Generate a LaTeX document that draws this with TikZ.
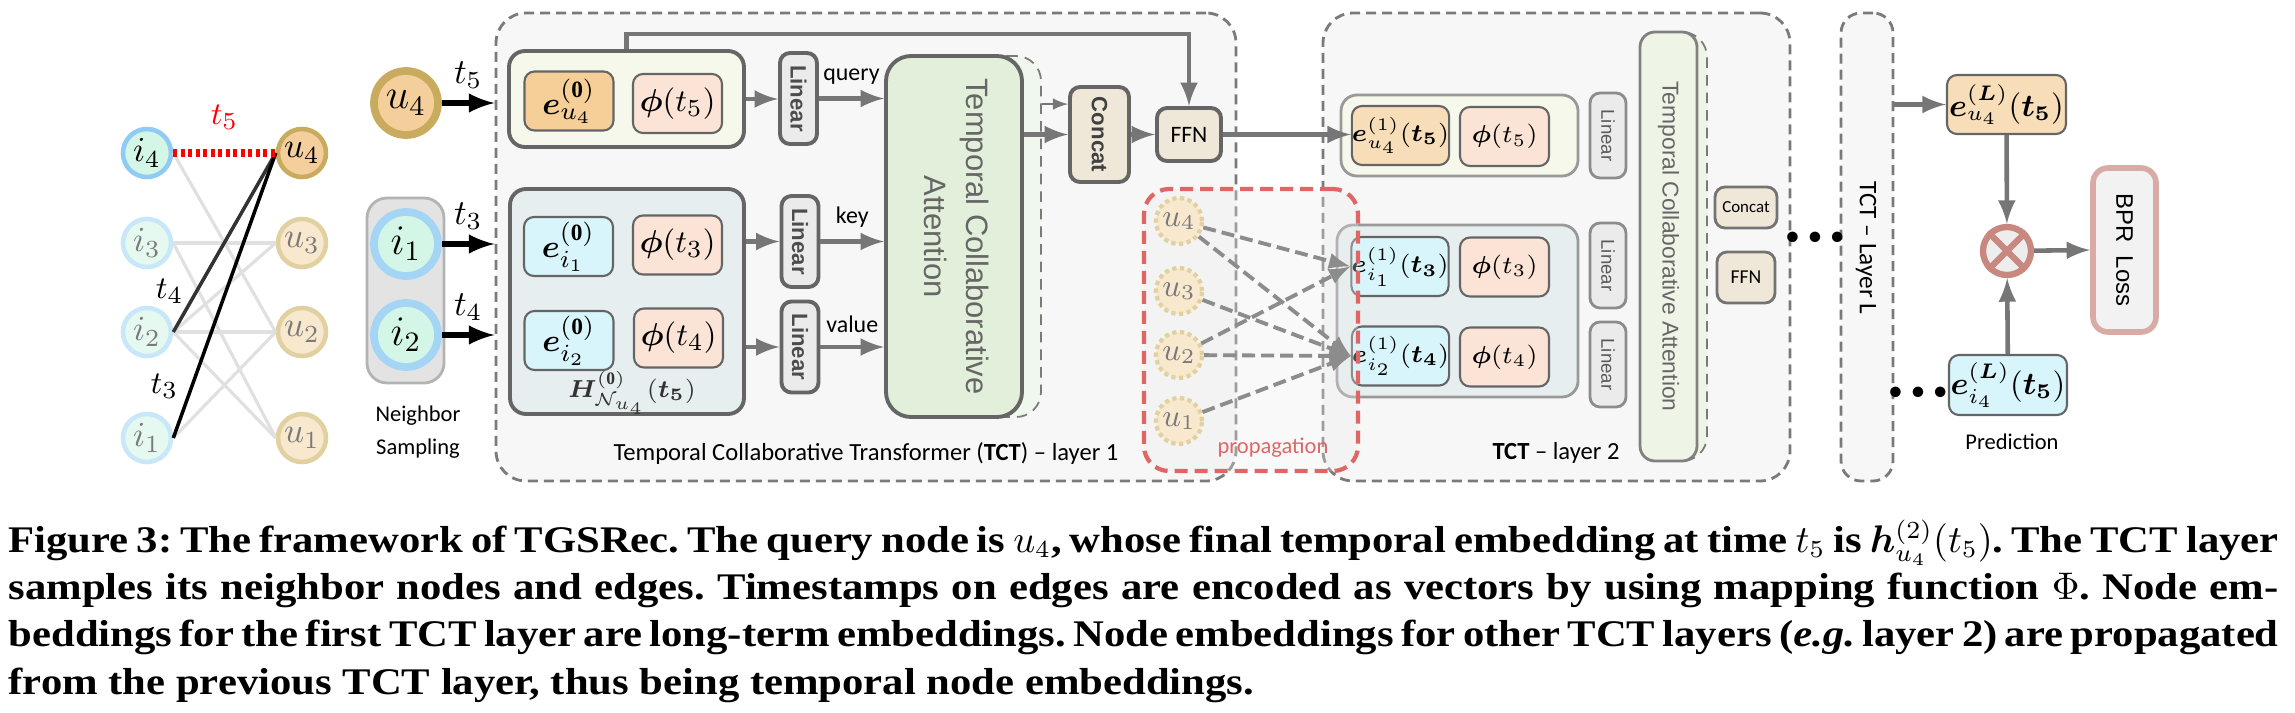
\documentclass[tikz,border=0pt]{standalone}
\usepackage{bm}
\usepackage{xcolor}
\usepackage{amsmath}
\usepackage{amssymb}
\usepackage{graphicx}
\usepackage{fontspec}
\setmainfont{Liberation Serif}
\newfontfamily\capfont{Liberation Serif}[FakeStretch=1.135]
\newfontfamily\calfont{Carlito}
\newfontfamily\arifont{Liberation Sans}
\usepackage{tikz}
\usetikzlibrary{arrows}
\usetikzlibrary{calc}

\definecolor{edgegray}{HTML}{767676}
\definecolor{boxgray}{HTML}{656565}
\definecolor{dashgray}{HTML}{7A7A7A}
\definecolor{layerfill}{HTML}{F7F7F7}
\definecolor{queryfill}{HTML}{F5F8EA}
\definecolor{nbrfill}{HTML}{E7EEF0}
\definecolor{userfill}{HTML}{F5CE98}
\definecolor{userfillb}{HTML}{F8DEB8}
\definecolor{itemfill}{HTML}{D9F5FC}
\definecolor{phifill}{HTML}{FBE4D6}
\definecolor{linfill}{HTML}{EBEBEB}
\definecolor{attfill}{HTML}{E2EFDA}
\definecolor{attfillb}{HTML}{EEF4E6}
\definecolor{catfill}{HTML}{EFE8D8}
\definecolor{propred}{HTML}{E06666}
\definecolor{nodeitem}{HTML}{D4F6E6}
\definecolor{nodeitemline}{HTML}{8FCBF2}
\definecolor{fadeitem}{HTML}{E6F9F0}
\definecolor{fadeitemline}{HTML}{C8E7F9}
\definecolor{nodeuser}{HTML}{F4CF9C}
\definecolor{nodeuserline}{HTML}{C9AB5E}
\definecolor{fadeuser}{HTML}{F8E8CE}
\definecolor{fadeuserline}{HTML}{E2D1A0}
\definecolor{fadetext}{HTML}{7A7A7A}
\definecolor{graphedge}{HTML}{E0E0E0}
\definecolor{nsfill}{HTML}{E3E3E3}
\definecolor{nsline}{HTML}{B3B3B3}
\definecolor{otimesline}{HTML}{C8887F}
\definecolor{bprline}{HTML}{D9ABA6}
\definecolor{bprfill}{HTML}{F2F2F2}

\begin{document}
\begin{tikzpicture}[x=0.1mm, y=-0.1mm,
	layerbox/.style={draw=dashgray, dash pattern=on 1mm off 0.6mm, line width=0.8pt, fill=layerfill, rounded corners=3mm},
	outerbox/.style={draw=boxgray, line width=1.1pt, rounded corners=1.6mm},
	embbox/.style={draw=boxgray, line width=0.6pt, rounded corners=1mm, minimum width=8.9mm, minimum height=5.9mm, inner sep=0},
	linbox/.style={draw=boxgray, line width=1.1pt, fill=linfill, rounded corners=1mm, inner sep=0},
	attbox/.style={draw=boxgray, line width=1.1pt, fill=attfill, rounded corners=2.5mm, inner sep=0, text=black!60},
	shadowbox/.style={draw=dashgray, densely dashed, line width=0.5pt, rounded corners=2.5mm},
	catbox/.style={draw=boxgray, line width=1.1pt, fill=catfill, rounded corners=1mm, inner sep=0},
	gnode/.style={circle, minimum size=4.8mm, inner sep=0, line width=1.3pt, font=\fontsize{10}{10}\selectfont},
	tag/.style={font=\calfont\fontsize{6.8}{7}\selectfont}]
\useasboundingbox (0,0) rectangle (2295,712);

\node (lay1) [layerbox, minimum width=74mm, minimum height=46.8mm] at (866,247) {};
\node (lay2) [layerbox, minimum width=46.7mm, minimum height=46.8mm] at (1556.5,247) {};
\node (layL) [layerbox, rounded corners=2mm, minimum width=5.2mm, minimum height=46.8mm] at (1867,247) {};
\node (layLt) [font=\calfont\fontsize{7.2}{8}\selectfont] at (1866,248) {\rotatebox{-90}{TCT – Layer L}};

\begin{scope}[every node/.style={gnode}]
\node (i4) [draw=nodeitemline, fill=nodeitem] at (147,153) {$i_4$};
\node (u4) [draw=nodeuserline, fill=nodeuser] at (302,153) {$u_4$};
\node (i3) [draw=fadeitemline, fill=fadeitem, text=fadetext] at (147,243) {$i_3$};
\node (u3) [draw=fadeuserline, fill=fadeuser, text=fadetext] at (302,243) {$u_3$};
\node (i2) [draw=fadeitemline, fill=fadeitem, text=fadetext] at (147,332) {$i_2$};
\node (u2) [draw=fadeuserline, fill=fadeuser, text=fadetext] at (302,332) {$u_2$};
\node (i1) [draw=fadeitemline, fill=fadeitem, text=fadetext] at (147,438) {$i_1$};
\node (u1) [draw=fadeuserline, fill=fadeuser, text=fadetext] at (302,438) {$u_1$};
\end{scope}

\begin{scope}[every edge/.style={draw=graphedge, line width=0.9pt}]
\path (i4.east) edge (u2.west)
(i3.east) edge (u3.west)
(i3.east) edge (u1.west)
(i2.east) edge (u3.west)
(i2.east) edge (u2.west)
(i2.east) edge (u1.west)
(i1.east) edge (u2.west);
\end{scope}

\draw [black!80, line width=1pt] (i2.east) -- (u4.west) node [pos=0.23, left=0pt, text=black, font=\fontsize{9.5}{10}\selectfont] {$t_4$};
\draw [black, line width=1pt] (i1.east) -- (u4.west) node [pos=0.18, left=0pt, font=\fontsize{9.5}{10}\selectfont] {$t_3$};
\draw [red, line width=2pt, dash pattern=on 0.4mm off 0.35mm] (i4.east) -- (u4.west) node [midway, above=0.8mm, text=red, font=\fontsize{9.5}{10}\selectfont] {$t_5$};

\node (ns) [draw=nsline, fill=nsfill, line width=0.8pt, rounded corners=2mm, minimum width=7.7mm, minimum height=18.5mm] at (405.5,290.5) {};
\node (nst) [align=center, font=\calfont\fontsize{6.4}{9.2}\selectfont] at (418,432) {Neighbor\\Sampling};

\begin{scope}[every node/.style={circle, minimum size=6.4mm, inner sep=0, line width=2.2pt, font=\fontsize{12}{12}\selectfont}]
\node (u4b) [draw=nodeuserline, fill=nodeuser] at (406,103) {$u_4$};
\node (i1b) [draw=nodeitemline!80, fill=nodeitem] at (406,244) {$i_1$};
\node (i2b) [draw=nodeitemline!80, fill=nodeitem] at (406,335) {$i_2$};
\end{scope}

\begin{scope}[>={latex}, every edge/.style={draw=black, line width=1.5pt}]
\path [->] (u4b.east) edge node [above, font=\fontsize{10}{10}\selectfont] {$t_5$} (u4b.east -| lay1.west)
(i1b.east) edge node [above, font=\fontsize{10}{10}\selectfont] {$t_3$} (i1b.east -| lay1.west)
(i2b.east) edge node [above, font=\fontsize{10}{10}\selectfont] {$t_4$} (i2b.east -| lay1.west);
\end{scope}

\begin{scope}[every node/.style={outerbox}]
\node (q1) [fill=queryfill, minimum width=23.5mm, minimum height=9.6mm] at (626.5,99) {};
\node (kv1) [fill=nbrfill, minimum width=23.4mm, minimum height=22.5mm] at (627,301.5) {};
\end{scope}

\begin{scope}[every node/.style={embbox, font=\fontsize{9.5}{10}\selectfont}]
\node (eu0) [fill=userfill] at (569,101) {$\bm{e}^{(\mathbf{0})}_{u_4}$};
\node (pq1) [fill=phifill] at (677.5,103.5) {$\bm{\phi}(t_5)$};
\node (ei1) [fill=itemfill] at (568.5,246.5) {$\bm{e}^{(\mathbf{0})}_{i_1}$};
\node (pk1) [fill=phifill] at (677.5,245) {$\bm{\phi}(t_3)$};
\node (ei2) [fill=itemfill] at (569,340.5) {$\bm{e}^{(\mathbf{0})}_{i_2}$};
\node (pv1) [fill=phifill] at (678.5,338) {$\bm{\phi}(t_4)$};
\end{scope}
\node (h0) [font=\fontsize{7}{8}\selectfont, text=black!80] at (632,393) {$\bm{H}^{(\mathbf{0})}_{\mathcal{N}_{u_4}}(\bm{t_5})$};

\begin{scope}[every node/.style={linbox, minimum width=3.7mm, minimum height=9.1mm, text=black!70, font=\arifont\bfseries\fontsize{6.3}{7}\selectfont}]
\node (lq1) at (798.5,98.5) {\rotatebox{-90}{Linear}};
\node (lk1) at (800,241.5) {\rotatebox{-90}{Linear}};
\node (lv1) at (800,347) {\rotatebox{-90}{Linear}};
\end{scope}

\node (att1s) [shadowbox, fill=attfill!50, minimum width=13.6mm, minimum height=36.1mm] at (973,236.5) {};
\node (att1) [attbox, minimum width=13.6mm, minimum height=36.1mm, font=\arifont\fontsize{8.8}{12}\selectfont] at (954,236.5) {\rotatebox{-90}{\begin{tabular}{@{}c@{}}Temporal Collaborative\\Attention\end{tabular}}};
\node (cat1) [catbox, minimum width=5.9mm, minimum height=9.5mm, text=black!75, font=\arifont\bfseries\fontsize{6.3}{7}\selectfont] at (1099.5,134.5) {\rotatebox{-90}{Concat}};
\node (ffn1) [catbox, minimum width=6.4mm, minimum height=5.3mm, font=\calfont\fontsize{6.7}{7}\selectfont] at (1189,134.5) {FFN};
\coordinate (cat1in) at ($(cat1.north west)+(0,19)$);

\begin{scope}[>={latex}, every edge/.style={draw=edgegray, line width=1.3pt}]
\path [->] (q1.east) edge (q1.east -| lq1.west)
(lq1.east) edge node [tag, above] {query} (lq1.east -| att1.west)
(lk1.west -| kv1.east) edge (lk1.west)
(lk1.east) edge node [tag, above] {key} (lk1.east -| att1.west)
(lv1.west -| kv1.east) edge (lv1.west)
(lv1.east) edge node [tag, above] {value} (lv1.east -| att1.west)
(cat1.west -| att1.east) edge (cat1.west)
(cat1.east) edge (ffn1.west);
\end{scope}
\draw [->, >={latex}, edgegray, line width=1.3pt] (q1.north) -- ++(0,-15) -| (ffn1.north);
\draw [->, >={latex}, edgegray, line width=0.5pt] (cat1in -| att1s.east) -- (cat1in);

\node (cap1) [font=\calfont\fontsize{7}{8}\selectfont] at (866,453) {Temporal Collaborative Transformer (\textbf{TCT}) – layer 1};

\begin{scope}[every node/.style={outerbox, draw=black!40, line width=0.8pt}]
\node (q2) [fill=queryfill, minimum width=23.7mm, minimum height=8.1mm] at (1459.5,135.5) {};
\node (kv2) [fill=nbrfill, minimum width=24.1mm, minimum height=17.2mm] at (1457.5,311) {};
\end{scope}

\begin{scope}[every node/.style={embbox, font=\fontsize{7.5}{8}\selectfont}]
\node (eu1) [fill=userfillb] at (1400.5,135.5) {$\bm{e}^{(1)}_{u_4}(\bm{t_5})$};
\node (pq2) [fill=phifill] at (1504.5,136.5) {$\bm{\phi}(t_5)$};
\node (ei1b) [fill=itemfill] at (1400,266.5) {$\bm{e}^{(1)}_{i_1}(\bm{t_3})$};
\node (pk2) [fill=phifill] at (1504.5,267) {$\bm{\phi}(t_3)$};
\node (ei2b) [fill=itemfill] at (1400.5,356) {$\bm{e}^{(1)}_{i_2}(\bm{t_4})$};
\node (pv2) [fill=phifill] at (1504.5,357) {$\bm{\phi}(t_4)$};
\end{scope}

\begin{scope}[every node/.style={linbox, draw=black!45, line width=0.8pt, minimum width=3.6mm, minimum height=8.5mm, text=black!65, font=\arifont\fontsize{5.3}{6}\selectfont}]
\node (lq2) at (1608,135.5) {\rotatebox{-90}{Linear}};
\node (lk2) at (1608,265.5) {\rotatebox{-90}{Linear}};
\node (lv2) at (1608,364.5) {\rotatebox{-90}{Linear}};
\end{scope}

\node (att2s) [shadowbox, fill=attfillb, minimum width=5.7mm, minimum height=42.9mm] at (1678.5,246.5) {};
\node (att2) [attbox, draw=black!50, line width=0.8pt, fill=attfillb, rounded corners=1.5mm, minimum width=5.7mm, minimum height=42.9mm, font=\arifont\fontsize{6.5}{7}\selectfont] at (1668.5,246.5) {\rotatebox{-90}{Temporal Collaborative Attention}};
\node (cat2) [catbox, draw=black!55, line width=0.8pt, minimum width=6.2mm, minimum height=4.1mm, font=\calfont\fontsize{4.8}{5}\selectfont] at (1746,207.5) {Concat};
\node (ffn2) [catbox, draw=black!55, line width=0.8pt, minimum width=5.8mm, minimum height=5.1mm, font=\calfont\fontsize{5.6}{6}\selectfont] at (1746,277.5) {FFN};
\node (cap2) [font=\calfont\fontsize{7}{8}\selectfont] at (1556,453) {\textbf{TCT} – layer 2};

\draw [->, >={latex}, edgegray, line width=1.3pt] (ffn1.east) -- (ffn1.east -| eu1.west);

\node (prop) [draw=propred, line width=1.2pt, dash pattern=on 1.3mm off 0.7mm, rounded corners=2.5mm, fill=black!8, fill opacity=0.3, minimum width=21.4mm, minimum height=28.2mm] at (1251,330) {};
\node (propt) [text=propred, font=\calfont\fontsize{6.4}{7}\selectfont] at (1273,448) {propagation};

\begin{scope}[every node/.style={circle, minimum size=4.6mm, inner sep=0, draw=fadeuserline, densely dotted, line width=1.2pt, fill=fadeuser, text=fadetext, font=\fontsize{9}{9}\selectfont}]
\node (pu4) at (1179,221) {$u_4$};
\node (pu3) at (1179,291) {$u_3$};
\node (pu2) at (1179,355) {$u_2$};
\node (pu1) at (1179,421) {$u_1$};
\end{scope}

\begin{scope}[>={latex}, every edge/.style={draw=black!45, line width=1.1pt, dash pattern=on 1.3mm off 0.6mm}]
\path [->] (pu4) edge (ei1b.west)
(pu4) edge (ei2b.west)
(pu3) edge (ei2b.west)
(pu2) edge (ei1b.west)
(pu2) edge (ei2b.west)
(pu1) edge (ei2b.west);
\end{scope}

\node (dots1) [font=\fontsize{7}{7}\selectfont] at (1815,238) {$\bullet\mkern1mu\bullet\mkern1mu\bullet$};
\node (dots2) [font=\fontsize{7}{7}\selectfont] at (1918,393) {$\bullet\mkern1mu\bullet\mkern1mu\bullet$};

\node (eLu) [embbox, fill=userfillb, minimum width=11.9mm, font=\fontsize{9}{10}\selectfont] at (2006.5,104.5) {$\bm{e}^{(\bm{L})}_{u_4}(\bm{t_5})$};
\node (eLi) [embbox, fill=itemfill, minimum width=11.8mm, minimum height=6mm, font=\fontsize{9}{10}\selectfont] at (2008,385) {$\bm{e}^{(\bm{L})}_{i_4}(\bm{t_5})$};
\node (otm) [circle, draw=otimesline, line width=1.8pt, fill=black!7, minimum size=4.8mm, inner sep=0] at (2007,251) {};
\draw [otimesline, line width=1.8pt] (otm.north west) -- (otm.south east) (otm.north east) -- (otm.south west);
\node (bpr) [draw=bprline, line width=1.6pt, fill=bprfill, rounded corners=1.5mm, minimum width=6.3mm, minimum height=16.4mm, inner sep=0, font=\arifont\fontsize{6.8}{7}\selectfont] at (2124.5,250) {\rotatebox{-90}{BPR\ \ Loss}};
\node (pred) [font=\calfont\fontsize{6.4}{7}\selectfont] at (2012,442) {Prediction};

\begin{scope}[>={latex}, every edge/.style={draw=edgegray, line width=1.3pt}]
\path [->] (eLu.west -| layL.east) edge (eLu.west)
(eLu) edge (otm)
(eLi) edge (otm)
(otm) edge (bpr.west);
\end{scope}

\node (cap) [anchor=base west, text width=227mm, align=justify, inner sep=0, font=\capfont\bfseries] at (8,552) {\fontsize{10.7}{13.5}\selectfont\frenchspacing Figure 3: The framework of TGSRec. The query node is $u_4$, whose final temporal embedding at time $t_5$ is $\bm{h}^{(2)}_{u_4}(t_5)$. The TCT layer\linebreak samples its neighbor nodes and edges. Timestamps on edges are encoded as vectors by using mapping function $\Phi$. Node em-\linebreak beddings for the first TCT layer are long-term embeddings. Node embeddings for other TCT layers (\textit{e.g.} layer 2) are propagated\linebreak from the previous TCT layer, thus being temporal node embeddings.\par};

\end{tikzpicture}
\end{document}
